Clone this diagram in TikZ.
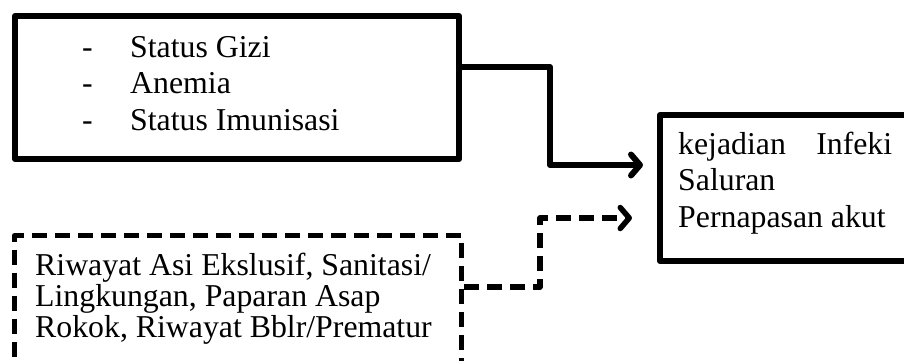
\documentclass[tikz,border=0pt]{standalone}
\usepackage{fontspec}
\setmainfont{Liberation Serif}
\usetikzlibrary{arrows.meta,calc}
\begin{document}
\begin{tikzpicture}[x=1pt,y=-1pt,
  frame/.style={draw=black,line width=6pt,line join=round,inner sep=0pt,anchor=north west},
  dashframe/.style={frame,line width=5pt,dash pattern=on 15pt off 8pt},
  barb/.tip={Straight Barb[length=9pt,width=21pt,line cap=round,line join=round]},
  link/.style={line width=6pt,line join=round,-barb},
  dashlink/.style={link,line width=5.5pt,dash pattern=on 15pt off 8pt},
  txt/.style={anchor=base west,inner sep=0pt,font=\fontsize{31.8}{36.5}\selectfont}]
\useasboundingbox (0,0) rectangle (904,360);

% boxes
\node[frame,minimum width=444pt,minimum height=143pt] (factors) at (12,13) {};
\node[frame,minimum width=270pt,minimum height=146pt] (outcome) at (657,112) {};
\node[dashframe,minimum width=447pt,minimum height=150pt] (context) at (12,233) {};

% texts of the upper box
\node[txt] (d1) at (82,57) {-};
\node[txt] (d2) at (82,93.5) {-};
\node[txt] (d3) at (82,130) {-};
\node[txt] (t1) at (130,57) {Status Gizi};
\node[txt] (t2) at (130,93.5) {Anemia};
\node[txt] (t3) at (130,130) {Status Imunisasi};

% texts of the outcome box
\node[txt] (o1) at (678,154) {\hbox to 214pt{kejadian\hfill Infeki}};
\node[txt] (o2) at (678,190.5) {Saluran};
\node[txt] (o3) at (678,227) {Pernapasan akut};

% texts of the dashed box
\node[txt] (c1) at (35,275) {Riwayat Asi Ekslusif, Sanitasi/};
\node[txt] (c2) at (35,306) {Lingkungan, Paparan Asap};
\node[txt] (c3) at (35,337) {Rokok, Riwayat Bblr/Prematur};

% connectors
\coordinate (s1) at ($(factors.north east)+(0,54)$);
\coordinate (e1) at ($(outcome.north west)+(-14,53)$);
\coordinate (s2) at ($(context.north east)+(0,54)$);
\coordinate (e2) at ($(outcome.north west)+(-25,106)$);
\draw[link] (s1) -- (550,67) -- (550,165) -- (e1);
\draw[dashlink] (s2) -- (540,287) -- (540,218) -- (e2);
\end{tikzpicture}
\end{document}
